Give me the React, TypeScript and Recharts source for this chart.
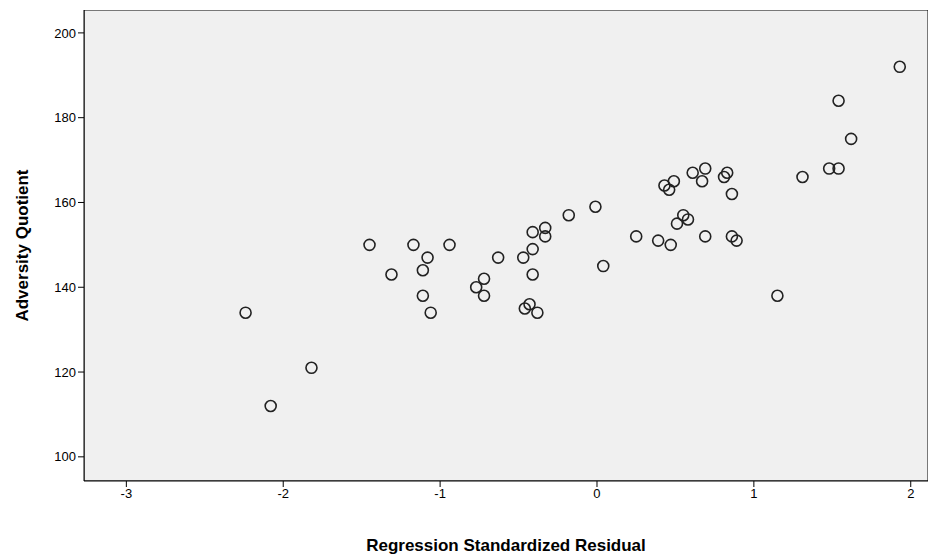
import { ScatterChart, Scatter, XAxis, YAxis, ReferenceArea, Label } from 'recharts'

const residuals = [
  -2.24, -2.08, -1.82, -1.45, -1.31, -1.17, -1.11, -1.08, -1.11, -1.06, -0.94, -0.63,
  -0.77, -0.72, -0.72, -0.47, -0.41, -0.41, -0.41, -0.46, -0.43, -0.38, -0.33, -0.33,
  -0.18, -0.01, 0.04, 0.25, 0.39, 0.43, 0.46, 0.49, 0.47, 0.51, 0.55, 0.58, 0.61, 0.67,
  0.69, 0.69, 0.81, 0.83, 0.86, 0.86, 0.89, 1.15, 1.31, 1.48, 1.54, 1.54, 1.62, 1.93,
]
const quotient = [
  134, 112, 121, 150, 143, 150, 144, 147, 138, 134, 150, 147,
  140, 142, 138, 147, 153, 149, 143, 135, 136, 134, 154, 152,
  157, 159, 145, 152, 151, 164, 163, 165, 150, 155, 157, 156, 167, 165,
  168, 152, 166, 167, 162, 152, 151, 138, 166, 168, 168, 184, 175, 192,
]
const xTicks = [-3, -2, -1, 0, 1, 2]
const yTicks = [100, 120, 140, 160, 180, 200]

const data = residuals.map((r, i) => ({ r, q: quotient[i] }))

const Ring = (p: any) => (
  <circle cx={p.cx} cy={p.cy} r={5.5} fill="none" stroke="#222" strokeWidth={1.6} />
)

const font = 'Arial, "Liberation Sans", sans-serif'

export default function App() {
  return (
    <div style={{ fontFamily: font }}>
      <ScatterChart width={935} height={551} margin={{ top: 2, right: 15, bottom: 0, left: 0 }}>
        <XAxis
          type="number" dataKey="r" domain={[-3.27, 2.11]} ticks={xTicks}
          allowDataOverflow height={78}
          tick={{ fill: '#000', fontSize: 13 }} tickLine={{ stroke: '#000' }} tickSize={6}
          axisLine={{ stroke: '#000' }}
        >
          <Label value="Regression Standardized Residual" position="insideBottom" offset={8}
            style={{ fill: '#000', fontSize: 17, fontWeight: 700 }} />
        </XAxis>
        <YAxis
          type="number" dataKey="q" domain={[94.3, 205.4]} ticks={yTicks}
          allowDataOverflow width={76}
          tick={{ fill: '#000', fontSize: 13 }} tickLine={{ stroke: '#000' }} tickSize={6}
          axisLine={{ stroke: '#000' }}
        >
          <Label value="Adversity Quotient" angle={-90} position="insideLeft" offset={14}
            style={{ fill: '#000', fontSize: 17, fontWeight: 700, textAnchor: 'middle' }} />
        </YAxis>
        <ReferenceArea x1={-3.27} x2={2.11} y1={94.3} y2={205.4} fill="#F0F0F0" fillOpacity={1}
          stroke="#000" strokeWidth={1} ifOverflow="hidden" />
        <Scatter data={data} shape={Ring} isAnimationActive={false} />
      </ScatterChart>
    </div>
  )
}
